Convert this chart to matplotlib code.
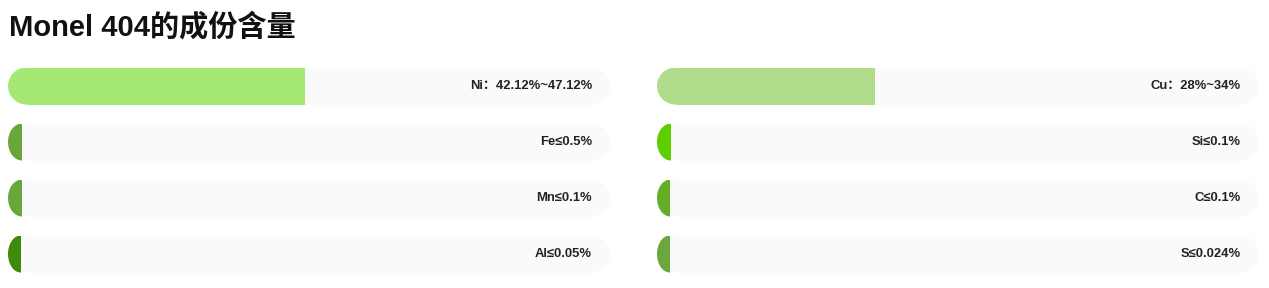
import matplotlib.pyplot as plt
from matplotlib.patches import Ellipse, Rectangle

plt.rcParams["font.family"] = ["Liberation Sans", "Noto Sans CJK SC", "DejaVu Sans"]

title = "Monel 404的成份含量"

left_labels = ["Ni：42.12%~47.12%", "Fe≤0.5%", "Mn≤0.1%", "Al≤0.05%"]
left_fill = [49.3, 2.3, 2.3, 2.1]          # filled share of the track, %
left_colors = ["#a5e874", "#6aa63a", "#68a83a", "#3d8b0b"]

right_labels = ["Cu：28%~34%", "Si≤0.1%", "C≤0.1%", "S≤0.024%"]
right_fill = [36.2, 2.3, 2.2, 2.1]
right_colors = ["#b0dc8c", "#5ccf00", "#63ad27", "#6aa83c"]

W, H = 1269, 288
fig = plt.figure(figsize=(W / 100, H / 100), dpi=100)

track_px = 602
row_px = 56
bar_h = 37 / row_px           # in row units
rx = 18.5 / (track_px / 100)  # end radius in x units


def draw_column(ax, labels, fill, colors):
    ax.set_xlim(0, 100)
    ax.set_ylim(len(labels) - 0.5, -0.5)
    ax.axis("off")
    for i, (lab, v, c) in enumerate(zip(labels, fill, colors)):
        # track with rounded ends
        for cx in (rx, 100 - rx):
            ax.add_patch(Ellipse((cx, i), 2 * rx, bar_h, color="#fafafa", lw=0))
        ax.add_patch(Rectangle((rx, i - bar_h / 2), 100 - 2 * rx, bar_h,
                               color="#fafafa", lw=0))
        # filled part, rounded on the left only
        r = min(rx, v)
        e = Ellipse((r, i), 2 * r, bar_h, color=c, lw=0)
        ax.add_patch(e)
        clip = Rectangle((0, i - bar_h / 2), r, bar_h, transform=ax.transData)
        e.set_clip_path(clip)
        if v > r:
            ax.add_patch(Rectangle((r, i - bar_h / 2), v - r, bar_h, color=c, lw=0))
        ax.text(97, i, lab, ha="right", va="center", fontsize=9.4,
                fontweight="bold", color="#222222")


ax1 = fig.add_axes([8 / W, 6 / H, track_px / W, 4 * row_px / H])
ax2 = fig.add_axes([657 / W, 6 / H, track_px / W, 4 * row_px / H])
draw_column(ax1, left_labels, left_fill, left_colors)
draw_column(ax2, right_labels, right_fill, right_colors)

fig.text(9 / W, 1 - 35 / H, title, ha="left", va="baseline", fontsize=21,
         fontweight="bold", color="#111111")

fig.savefig("out.png", dpi=100)
